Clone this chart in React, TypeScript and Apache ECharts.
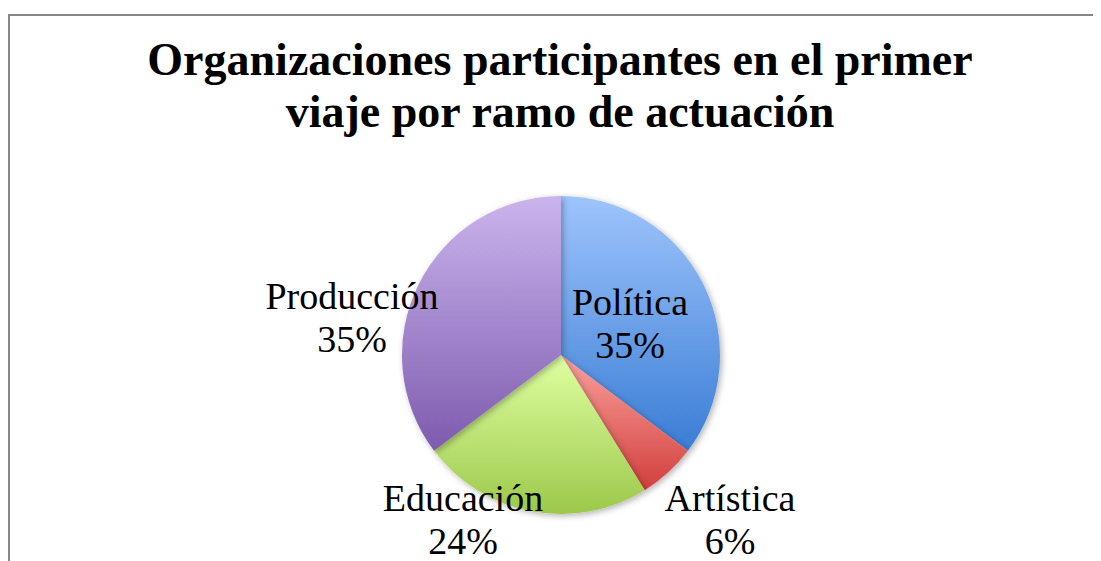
import React, { useEffect, useRef } from "react";
import * as echarts from "echarts";

const categories = ["Política", "Artística", "Educación", "Producción"];
const counts = [6, 1, 4, 6];
const titleLines = ["Organizaciones participantes en el primer", "viaje por ramo de actuación"];

const topColors = ["#9EC4FB", "#FAA19D", "#DFFFA1", "#CAB4ED"];
const bottomColors = ["#3A7DD5", "#D13F3C", "#9CC84B", "#7E5BAE"];
const labelPos = [
  [622, 315],
  [722, 511],
  [455, 511],
  [344, 309],
];

export default function App() {
  const ref = useRef<HTMLDivElement>(null);
  useEffect(() => {
    if (!ref.current) return;
    const chart = echarts.init(ref.current, undefined, { renderer: "svg" });
    const serif = '"Liberation Serif", "DejaVu Serif", serif';
    chart.setOption({
      animation: false,
      backgroundColor: "#ffffff",
      graphic: [
        {
          type: "polyline",
          shape: { points: [[1, 560], [1, 7], [1100, 7]] },
          style: { stroke: "#878787", lineWidth: 2, fill: null },
          z: 10,
        },
        {
          type: "text",
          x: 552,
          y: 25,
          style: {
            text: titleLines.join("\n"),
            font: `bold 46px ${serif}`,
            lineHeight: 52,
            textAlign: "center",
            textVerticalAlign: "top",
            fill: "#000000",
          },
        },
      ],
      series: [
        {
          type: "pie",
          center: [553, 347],
          radius: 159,
          startAngle: 90,
          clockwise: true,
          percentPrecision: 0,
          avoidLabelOverlap: false,
          data: categories.map((name, i) => ({
            name,
            value: counts[i],
            itemStyle: {
              color: new echarts.graphic.LinearGradient(0, 0, 0, 1, [
                { offset: 0, color: topColors[i] },
                { offset: 1, color: bottomColors[i] },
              ]),
            },
          })),
          itemStyle: {
            borderWidth: 0,
            shadowBlur: 6,
            shadowColor: "rgba(0,0,0,0.3)",
            shadowOffsetX: 2,
            shadowOffsetY: 2,
          },
          label: {
            show: true,
            position: "inside",
            formatter: "{b}\n{d}%",
            fontFamily: serif,
            fontSize: 38,
            lineHeight: 43,
            color: "#000000",
            align: "center",
          },
          labelLine: { show: false },
          labelLayout: (params: any) => {
            const p = labelPos[params.dataIndex];
            return { x: p[0], y: p[1], align: "center", verticalAlign: "middle" };
          },
          emphasis: { disabled: true },
        },
      ],
    });
    return () => chart.dispose();
  }, []);
  return <div ref={ref} style={{ width: 1093, height: 553 }} />;
}
